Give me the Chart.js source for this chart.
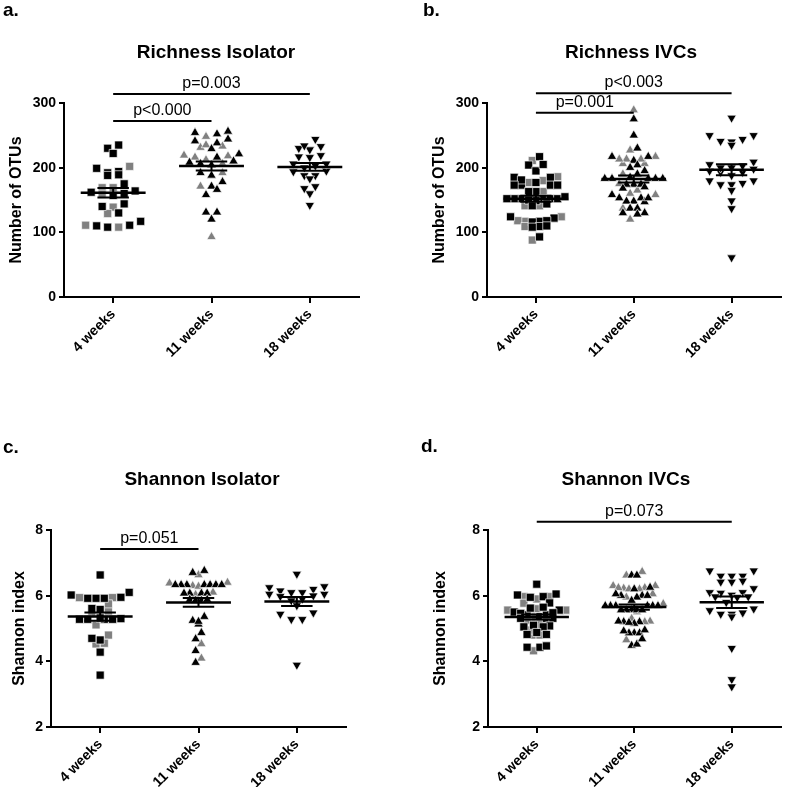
<!DOCTYPE html>
<html><head><meta charset="utf-8">
<script src="https://cdn.jsdelivr.net/npm/chart.js@4.4.0/dist/chart.umd.min.js"></script>
<style>
html,body{margin:0;padding:0;background:#fff;}
#wrap{position:relative;width:787px;height:792px;overflow:hidden;font-family:'Liberation Sans',Arial,sans-serif;color:#000;background:#fff;}
canvas{position:absolute;left:0;top:0;}
.t{position:absolute;font-weight:bold;font-size:19px;white-space:nowrap;transform:translate(-50%,-50%);}
.l{position:absolute;font-weight:bold;font-size:19px;white-space:nowrap;transform:translate(0,-50%);}
</style></head>
<body><div id="wrap">
<canvas id="ca" width="787" height="792"></canvas>
<canvas id="cb" width="787" height="792"></canvas>
<canvas id="cc" width="787" height="792"></canvas>
<canvas id="cd" width="787" height="792"></canvas>
<div class="l" style="left:3px;top:10px">a.</div>
<div class="l" style="left:423px;top:10px">b.</div>
<div class="l" style="left:3px;top:447px">c.</div>
<div class="l" style="left:421px;top:446px">d.</div>
<div class="t" style="left:216px;top:52px">Richness Isolator</div>
<div class="t" style="left:631px;top:52px">Richness IVCs</div>
<div class="t" style="left:202px;top:479px">Shannon Isolator</div>
<div class="t" style="left:626px;top:479px">Shannon IVCs</div>
</div>
<script>
// ---------- DATA ----------
const categories = ['4 weeks', '11 weeks', '18 weeks'];
const richTicks = [0, 100, 200, 300];
const shanTicks = [2, 4, 6, 8];

// a. Richness Isolator
const richIsoBlack4 = [235, 230, 222, 199, 192, 188, 194, 189, 175, 162, 157, 160, 164, 144, 140, 130, 117, 111, 110, 108];
const richIsoGray4 = [202, 169, 169, 159, 139, 129, 108, 111];
const richIsoBlack11 = [256, 252, 244, 238, 241, 254, 229, 221, 216, 192, 188, 178, 171, 166, 158, 131, 120, 131, 208, 206, 204, 210];
const richIsoGray11 = [233, 216, 219, 218, 248, 231, 235, 212, 192, 171, 93, 206];
const richIso18 = [244, 233, 228, 230, 234, 219, 216, 217, 206, 195, 188, 188, 206, 183, 171, 160, 168, 142, 203, 200, 194];

// b. Richness IVCs
const richIvcBlack4 = [217, 204, 195, 205, 185, 173, 173, 185, 181, 173, 173, 163, 163, 152, 152, 152, 149, 152, 152, 152, 150, 155, 141, 144, 122, 117, 124, 118, 116, 109, 108, 93, 110, 177];
const richIvcGray4 = [211, 186, 180, 177, 163, 141, 141, 124, 117, 118, 109, 88];
const richIvcBlack11 = [275, 250, 230, 217, 217, 211, 204, 200, 183, 183, 183, 183, 183, 185, 174, 174, 174, 158, 153, 153, 148, 147, 148, 153, 137, 130, 137, 130, 128, 190, 195, 168, 170];
const richIvcGray11 = [289, 227, 217, 206, 206, 213, 213, 213, 160, 158, 137, 120, 165, 175, 190];
const richIvc18 = [277, 250, 244, 240, 235, 241, 250, 200, 195, 209, 193, 193, 200, 203, 180, 188, 174, 174, 176, 180, 165, 149, 137, 61, 205, 198];

// c. Shannon Isolator
const shanIsoBlack4 = [6.63, 6.10, 5.92, 5.92, 5.92, 5.95, 6.02, 5.61, 5.58, 5.30, 5.28, 5.28, 5.28, 5.28, 5.32, 4.65, 4.70, 4.28, 3.58];
const shanIsoGray4 = [5.94, 5.94, 5.53, 5.75, 5.46, 5.11, 4.80, 4.53, 4.55];
const shanIsoBlack11 = [6.76, 6.70, 6.33, 6.33, 6.33, 6.33, 6.33, 6.33, 6.33, 6.07, 6.07, 6.07, 6.07, 5.88, 5.85, 5.85, 5.88, 5.24, 5.36, 5.13, 5.21, 4.87, 4.68, 4.32, 3.96];
const shanIsoGray11 = [6.63, 6.38, 6.40, 6.30, 6.28, 6.03, 6.10, 4.53, 4.09];
const shanIso18 = [6.66, 6.25, 6.15, 6.10, 6.05, 6.05, 6.10, 6.20, 6.28, 6.00, 5.98, 5.90, 5.85, 5.70, 5.48, 5.28, 5.28, 5.44, 3.89];

// d. Shannon IVCs
const shanIvcBlack4 = [6.35, 5.95, 6.02, 6.05, 5.97, 5.78, 5.56, 5.50, 5.42, 5.36, 5.31, 5.46, 5.31, 5.31, 5.42, 5.48, 5.08, 5.05, 5.05, 5.10, 4.82, 4.82, 4.88, 4.43, 4.43, 4.47, 5.65, 5.62];
const shanIvcGray4 = [5.97, 5.97, 5.77, 5.56, 5.56, 5.90, 5.60, 5.35, 5.12, 4.80, 4.80, 4.95, 4.32, 5.25];
const shanIvcBlack11 = [6.62, 6.62, 6.00, 6.00, 6.00, 6.05, 5.95, 5.69, 5.69, 5.69, 5.69, 5.69, 5.69, 5.56, 5.56, 5.56, 5.56, 5.56, 5.20, 5.20, 5.15, 5.18, 5.22, 4.86, 4.86, 4.92, 4.86, 4.95, 4.48, 4.52, 4.68, 5.85, 6.25, 6.20];
const shanIvcGray11 = [6.73, 6.62, 6.30, 6.24, 6.22, 6.20, 6.20, 6.24, 6.30, 6.05, 5.50, 5.22, 5.20, 5.30, 4.65, 5.95, 5.75];
const shanIvc18 = [6.76, 6.76, 6.60, 6.60, 6.60, 6.42, 6.42, 6.45, 6.22, 6.10, 6.08, 6.10, 6.02, 5.97, 5.95, 5.97, 5.80, 5.60, 5.44, 5.36, 5.48, 5.44, 4.40, 3.45, 3.23, 5.55];

// significance annotations (category from/to, height in data units)
const pRichIso = [{from: 1, to: 2, at: 272, label: 'p<0.000'}, {from: 1, to: 3, at: 314, label: 'p=0.003'}];
const pRichIvc = [{from: 1, to: 2, at: 285, label: 'p=0.001'}, {from: 1, to: 3, at: 315, label: 'p<0.003'}];
const pShanIso = [{from: 1, to: 2, at: 7.42, label: 'p=0.051'}];
const pShanIvc = [{from: 1, to: 3, at: 8.25, label: 'p=0.073'}];

// ---------- STYLE / LAYOUT ----------
const FONT = "'Liberation Sans', Arial, sans-serif";
Chart.defaults.font.family = FONT;
Chart.defaults.color = '#000';
const COLORS = ['#000000', '#808080'];
const MARKERS = [
  {style: 'rect', rot: 0, r: 5.7},
  {style: 'triangle', rot: 0, r: 5.4},
  {style: 'triangle', rot: 180, r: 5.4}
];
const ROW_H = 7, MAX_STEP = 11, MAX_W = 58;

const panels = [
  {id: 'ca', groups: [[richIsoBlack4, richIsoGray4], [richIsoBlack11, richIsoGray11], [richIso18]],
   yTitle: 'Number of OTUs', ticks: richTicks, pvals: pRichIso,
   box: {padLeft: 0, axisW: 64, titlePad: 7.4, top: 103, right: 359, bottom: 297, xH: 80}},
  {id: 'cb', groups: [[richIvcBlack4, richIvcGray4], [richIvcBlack11, richIvcGray11], [richIvc18]],
   yTitle: 'Number of OTUs', ticks: richTicks, pvals: pRichIvc,
   box: {padLeft: 423, axisW: 64, titlePad: 7.4, top: 103, right: 782, bottom: 297, xH: 80}},
  {id: 'cc', groups: [[shanIsoBlack4, shanIsoGray4], [shanIsoBlack11, shanIsoGray11], [shanIso18]],
   yTitle: 'Shannon index', ticks: shanTicks, pvals: pShanIso,
   box: {padLeft: 0, axisW: 51, titlePad: 10.4, top: 530, right: 346, bottom: 727, xH: 60}},
  {id: 'cd', groups: [[shanIvcBlack4, shanIvcGray4], [shanIvcBlack11, shanIvcGray11], [shanIvc18]],
   yTitle: 'Shannon index', ticks: shanTicks, pvals: pShanIvc,
   box: {padLeft: 424, axisW: 64, titlePad: 7.4, top: 530, right: 785, bottom: 727, xH: 60}}
];

function meanSem(arr) {
  const n = arr.length;
  const m = arr.reduce((a, b) => a + b, 0) / n;
  const sd = Math.sqrt(arr.reduce((a, b) => a + (b - m) * (b - m), 0) / (n - 1));
  return {m, sem: sd / Math.sqrt(n)};
}

const summaryPlugin = {
  id: 'summary',
  afterDatasetsDraw(chart, args, opts) {
    const ctx = chart.ctx, xs = chart.scales.x, ys = chart.scales.y;
    const unit = xs.getPixelForValue(2) - xs.getPixelForValue(1);
    ctx.save();
    ctx.strokeStyle = '#000';
    opts.groups.forEach((g, i) => {
      const all = [].concat(...g);
      const {m, sem} = meanSem(all);
      const cx = xs.getPixelForValue(i + 1);
      const my = ys.getPixelForValue(m);
      const y1 = ys.getPixelForValue(m + sem), y2 = ys.getPixelForValue(m - sem);
      ctx.lineWidth = 2.5;
      ctx.beginPath(); ctx.moveTo(cx - 0.33 * unit, my); ctx.lineTo(cx + 0.33 * unit, my); ctx.stroke();
      ctx.lineWidth = 2;
      ctx.beginPath();
      ctx.moveTo(cx, y1); ctx.lineTo(cx, y2);
      ctx.moveTo(cx - 0.16 * unit, y1); ctx.lineTo(cx + 0.16 * unit, y1);
      ctx.moveTo(cx - 0.16 * unit, y2); ctx.lineTo(cx + 0.16 * unit, y2);
      ctx.stroke();
    });
    ctx.restore();
  },
  afterDraw(chart, args, opts) {
    const ctx = chart.ctx, xs = chart.scales.x, ys = chart.scales.y;
    ctx.save();
    ctx.strokeStyle = '#000'; ctx.fillStyle = '#000'; ctx.lineWidth = 2;
    ctx.font = '16px ' + FONT; ctx.textAlign = 'center'; ctx.textBaseline = 'alphabetic';
    opts.pvals.forEach(p => {
      const x1 = xs.getPixelForValue(p.from), x2 = xs.getPixelForValue(p.to), y = ys.getPixelForValue(p.at);
      ctx.beginPath(); ctx.moveTo(x1, y); ctx.lineTo(x2, y); ctx.stroke();
      ctx.fillText(p.label, (x1 + x2) / 2, y - 6);
    });
    ctx.restore();
  }
};

function layoutSwarm(chart) {
  const xs = chart.scales.x, ys = chart.scales.y;
  const unit = xs.getPixelForValue(2) - xs.getPixelForValue(1);
  const byCat = {};
  chart.data.datasets.forEach(ds => { (byCat[ds.cat] = byCat[ds.cat] || []).push(ds); });
  Object.keys(byCat).forEach(k => {
    const cat = +k;
    const pts = [];
    byCat[k].forEach(ds => ds.data.forEach(pt => pts.push({pt, py: ys.getPixelForValue(pt.y)})));
    pts.sort((a, b) => a.py - b.py);
    const rows = []; let cur = null;
    pts.forEach(p => {
      if (!cur || p.py - cur.start >= ROW_H) { cur = {start: p.py, items: []}; rows.push(cur); }
      cur.items.push(p);
    });
    const nmax = Math.max(...rows.map(r => r.items.length));
    const step = nmax > 1 ? Math.min(MAX_STEP, MAX_W / (nmax - 1)) : MAX_STEP;
    rows.forEach(r => {
      const n = r.items.length;
      const slots = [];
      for (let i = 0; i < n; i++) slots.push((i - (n - 1) / 2) * step);
      slots.sort((a, b) => (Math.abs(a) - Math.abs(b)) || (a - b));
      r.items.sort((a, b) => b.py - a.py);
      r.items.forEach((p, i) => { p.pt.x = cat + slots[i] / unit; });
    });
  });
}

panels.forEach(panel => {
  const b = panel.box;
  const datasets = [];
  panel.groups.forEach((g, ci) => {
    const mk = MARKERS[ci];
    g.forEach((vals, si) => {
      datasets.push({
        cat: ci + 1,
        data: vals.map(v => ({x: ci + 1, y: v})),
        pointStyle: mk.style, rotation: mk.rot, pointRadius: mk.r, pointHoverRadius: mk.r,
        backgroundColor: COLORS[si], borderColor: 'rgba(255,255,255,0.85)', borderWidth: 0.8
      });
    });
  });
  const yMin = panel.ticks[0], yMax = panel.ticks[panel.ticks.length - 1];
  const chart = new Chart(document.getElementById(panel.id), {
    type: 'scatter',
    data: {datasets},
    options: {
      responsive: false, animation: false, events: [],
      layout: {padding: {left: b.padLeft, top: b.top, right: 787 - b.right, bottom: 792 - b.bottom - b.xH}},
      plugins: {legend: {display: false}, tooltip: {enabled: false},
        summary: {groups: panel.groups, pvals: panel.pvals}},
      scales: {
        x: {
          type: 'linear', min: 0.5, max: 3.5,
          afterBuildTicks: s => { s.ticks = categories.map((c, i) => ({value: i + 1})); },
          afterFit: s => { s.height = b.xH; },
          ticks: {autoSkip: false, minRotation: 45, maxRotation: 45, padding: 3,
            font: {size: 14, weight: 'bold', family: FONT}, color: '#000',
            callback: v => categories[v - 1]},
          grid: {drawOnChartArea: false, drawTicks: true, tickLength: 6, color: '#000', lineWidth: 2},
          border: {display: true, color: '#000', width: 2}
        },
        y: {
          type: 'linear', min: yMin, max: yMax,
          afterBuildTicks: s => { s.ticks = panel.ticks.map(v => ({value: v})); },
          afterFit: s => { s.width = b.axisW; },
          ticks: {padding: 3, font: {size: 14, weight: 'bold', family: FONT}, color: '#000'},
          grid: {drawOnChartArea: false, drawTicks: true, tickLength: 5, color: '#000', lineWidth: 2},
          border: {display: true, color: '#000', width: 2},
          title: {display: true, text: panel.yTitle, color: '#000',
            font: {size: 16, weight: 'bold', family: FONT}, padding: {top: b.titlePad, bottom: 0}}
        }
      }
    },
    plugins: [summaryPlugin]
  });
  layoutSwarm(chart);
  chart.update('none');
});
</script>
</body></html>
